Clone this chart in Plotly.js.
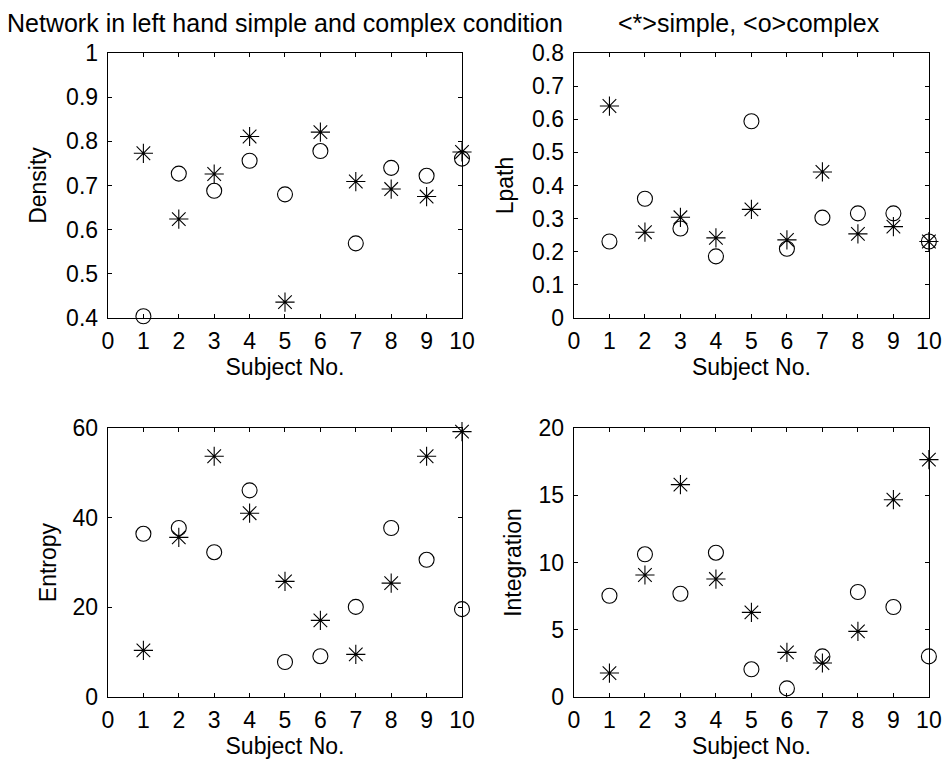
<!DOCTYPE html>
<html>
<head>
<meta charset="utf-8">
<script src="https://cdn.plot.ly/plotly-3.0.1.min.js"></script>
<style>html,body{margin:0;padding:0;background:#fff;}#chart{width:944px;height:762px;}</style>
</head>
<body>
<div id="chart"></div>
<script>
const subjects = [1,2,3,4,5,6,7,8,9,10];
const densitySimple  = [0.773,0.624,0.726,0.811,0.436,0.821,0.709,0.692,0.675,0.776];
const densityComplex = [0.404,0.727,0.688,0.756,0.680,0.778,0.569,0.740,0.722,0.761];
const lpathSimple  = [0.640,0.259,0.304,0.242,0.328,0.236,0.441,0.254,0.276,0.231];
const lpathComplex = [0.231,0.360,0.270,0.186,0.594,0.209,0.303,0.316,0.316,0.231];
const entropySimple  = [10.4,35.6,53.7,41.0,25.8,17.1,9.5,25.4,53.7,59.2];
const entropyComplex = [36.4,37.7,32.3,46.1,7.8,9.1,20.1,37.7,30.6,19.6];
const integrationSimple  = [1.78,9.07,15.79,8.77,6.29,3.32,2.53,4.88,14.67,17.65];
const integrationComplex = [7.53,10.61,7.68,10.73,2.06,0.64,3.02,7.81,6.69,3.02];
const xTickVals = [0,1,2,3,4,5,6,7,8,9,10];

const FONT = 'Liberation Sans, Arial, sans-serif';
const FS = 23;
const TFS = 25;

function pair(xa, ya, s, c) {
  return [
    {x: subjects, y: c, xaxis: xa, yaxis: ya, type: 'scatter', mode: 'markers', cliponaxis: false,
     marker: {symbol: 'circle-open', size: 15, color: '#000', line: {width: 1.1, color: '#000'}}, showlegend: false, hoverinfo: 'skip'},
    {x: subjects, y: s, xaxis: xa, yaxis: ya, type: 'scatter', mode: 'markers', cliponaxis: false,
     marker: {symbol: 'asterisk-open', size: 16, color: '#000', line: {width: 1.1, color: '#000'}}, showlegend: false, hoverinfo: 'skip'}
  ];
}

const data = [].concat(
  pair('x', 'y', densitySimple, densityComplex),
  pair('x2', 'y2', lpathSimple, lpathComplex),
  pair('x3', 'y3', entropySimple, entropyComplex),
  pair('x4', 'y4', integrationSimple, integrationComplex)
);

function xax(domain, anchor) {
  return {domain: domain, anchor: anchor, range: [0, 10], tickvals: xTickVals, ticks: 'inside', ticklen: 4,
    tickcolor: '#000', showline: true, linecolor: '#000', linewidth: 1.3, mirror: 'ticks', showgrid: false,
    zeroline: false, tickfont: {family: FONT, size: FS, color: '#000'}, ticklabelstandoff: 2,
    title: {text: 'Subject No.', font: {family: FONT, size: FS, color: '#000'}, standoff: 5}, automargin: false, fixedrange: true};
}
function yax(domain, anchor, range, dtick, title, standoff) {
  return {domain: domain, anchor: anchor, range: range, dtick: dtick, ticks: 'inside', ticklen: 4,
    tickcolor: '#000', showline: true, linecolor: '#000', linewidth: 1.3, mirror: 'ticks', showgrid: false,
    zeroline: false, tickfont: {family: FONT, size: FS, color: '#000'}, ticklabelstandoff: 4,
    title: {text: title, font: {family: FONT, size: FS, color: '#000'}, standoff: standoff}, automargin: false, fixedrange: true};
}

const xL = [0.1144, 0.4894], xR = [0.608, 0.984];
const yT = [0.5827, 0.9304], yB = [0.0853, 0.4383];

const layout = {
  width: 944, height: 762,
  margin: {l: 0, r: 0, t: 0, b: 0},
  paper_bgcolor: '#fff', plot_bgcolor: '#fff',
  font: {family: FONT, size: FS, color: '#000'},
  xaxis: xax(xL, 'y'), yaxis: yax(yT, 'x', [0.4, 1], 0.1, 'Density', 13),
  xaxis2: xax(xR, 'y2'), yaxis2: yax(yT, 'x2', [0, 0.8], 0.1, 'Lpath', 12),
  xaxis3: xax(xL, 'y3'), yaxis3: yax(yB, 'x3', [0, 60], 20, 'Entropy', 9),
  xaxis4: xax(xR, 'y4'), yaxis4: yax(yB, 'x4', [0, 20], 5, 'Integration', 10),
  annotations: [
    {text: 'Network in left hand simple and complex condition', xref: 'paper', yref: 'paper',
     x: 284.5/944, y: 1 - 23/762, xanchor: 'center', yanchor: 'middle', showarrow: false,
     font: {family: FONT, size: TFS, color: '#000'}},
    {text: '&lt;*&gt;simple, &lt;o&gt;complex', xref: 'paper', yref: 'paper',
     x: 749/944, y: 1 - 23/762, xanchor: 'center', yanchor: 'middle', showarrow: false,
     font: {family: FONT, size: TFS, color: '#000'}}
  ]
};

Plotly.newPlot('chart', data, layout, {staticPlot: true, displayModeBar: false});
</script>
</body>
</html>
